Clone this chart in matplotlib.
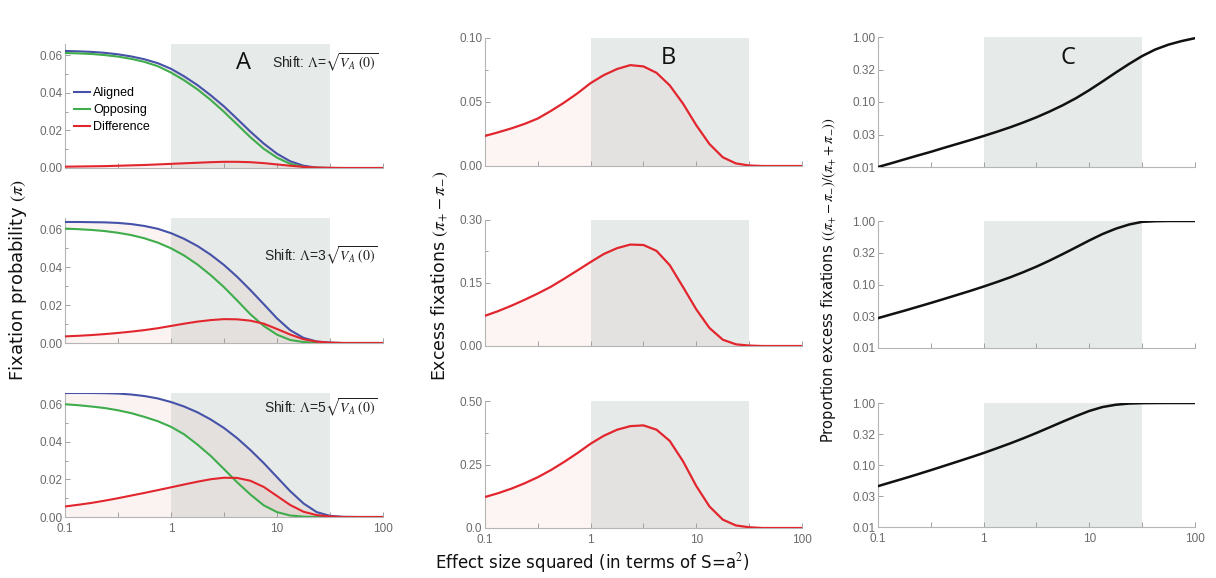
import numpy as np
import matplotlib.pyplot as plt

plt.rcParams.update({
    "font.family": ["Liberation Sans", "DejaVu Sans"],
    "mathtext.fontset": "stix",
})

# ── DATA ───────────────────────────────────────────────────────────────────
# effect size squared, 1/8-decade grid
S = [0.1, 0.133, 0.178, 0.237, 0.316, 0.42, 0.56, 0.75, 1.0, 1.33, 1.78, 2.37,
     3.16, 4.2, 5.6, 7.5, 10, 13.3, 17.8, 23.7, 31.6, 42, 56, 75, 100]

# panel A, shift = 1 sqrt(VA)
a1_aligned = [.0623, .0621, .0618, .0613, .0605, .0594, .0579, .0558, .0528, .0488, .0441, .0387,
              .0328, .0262, .0194, .0130, .0076, .0036, .0012, .0002, 0, 0, 0, 0, 0]
a1_opposing = [.0612, .0610, .0607, .0601, .0593, .0581, .0565, .0542, .0508, .0467, .0418, .0362,
               .0299, .0232, .0164, .0102, .0055, .0022, .0006, .0001, 0, 0, 0, 0, 0]
a1_diff = [.0007, .0008, .0009, .0010, .0012, .0014, .0016, .0019, .0022, .0025, .0028, .0031,
           .0033, .0033, .0031, .0026, .0019, .0012, .0006, .0002, .0001, 0, 0, 0, 0]

# panel A, shift = 3 sqrt(VA)
a3_aligned = [.0639, .0639, .0638, .0637, .0634, .0628, .0618, .0603, .0580, .0550, .0512, .0466,
              .0412, .0350, .0280, .0205, .0130, .0068, .0027, .0008, .0002, 0, 0, 0, 0]
a3_opposing = [.0604, .0601, .0597, .0591, .0582, .0570, .0553, .0530, .0500, .0462, .0414, .0358,
               .0295, .0225, .0152, .0090, .0044, .0016, .0005, .0001, 0, 0, 0, 0, 0]
a3_diff = [.0035, .0038, .0042, .0047, .0053, .0060, .0068, .0078, .0090, .0102, .0113, .0121,
           .0126, .0125, .0118, .0102, .0074, .0045, .0020, .0007, .0002, 0, 0, 0, 0]

# panel A, shift = 5 sqrt(VA)
a5_aligned = [.0660, .0660, .0660, .0659, .0657, .0652, .0644, .0631, .0612, .0588, .0557, .0519,
              .0474, .0420, .0357, .0287, .0212, .0138, .0072, .0026, .0006, .0001, 0, 0, 0]
a5_opposing = [.0600, .0595, .0588, .0580, .0568, .0553, .0533, .0510, .0480, .0440, .0385, .0325,
               .0255, .0185, .0120, .0062, .0026, .0008, .0002, 0, 0, 0, 0, 0, 0]
a5_diff = [.0056, .0065, .0075, .0087, .0100, .0114, .0128, .0143, .0158, .0173, .0188, .0201,
           .0209, .0208, .0193, .0160, .0112, .0064, .0028, .0010, .0003, 0, 0, 0, 0]

# panel B, excess fixations
b1_excess = [.0235, .0263, .0294, .0329, .0371, .0430, .0495, .0568, .0648, .0710, .0758, .0788,
             .0778, .0728, .0630, .0486, .0318, .0172, .0068, .0020, .0004, 0, 0, 0, 0]
b3_excess = [.072, .083, .096, .110, .125, .141, .160, .180, .200, .219, .233, .2415,
             .2405, .2265, .1925, .140, .087, .043, .015, .004, .001, 0, 0, 0, 0]
b5_excess = [.122, .137, .155, .176, .200, .228, .260, .295, .332, .363, .387, .401,
             .404, .387, .343, .262, .165, .085, .033, .010, .003, 0, 0, 0, 0]

# panel C, proportion excess fixations
c1_prop = [.0100, .0114, .0131, .0150, .0171, .0197, .0226, .0260, .0300, .0348, .0408, .0484,
           .0582, .0713, .0891, .1148, .1524, .2065, .2838, .3837, .5093, .6412, .7621, .8670, .9594]
c3_prop = [.0295, .0338, .0387, .0445, .0512, .0591, .0685, .0795, .0929, .1091, .1297, .1563,
           .1912, .2378, .3013, .3859, .4943, .6223, .7568, .8790, .9694, .992, 1.0, 1.0, 1.0]
c5_prop = [.0456, .0527, .0610, .0708, .0825, .0964, .1129, .1327, .1563, .1858, .2228, .2692,
           .3289, .4046, .5000, .6152, .7447, .8601, .9376, .9795, .9936, .998, 1.0, 1.0, 1.0]

shift_labels = [r"Shift: $\Lambda$=$\sqrt{V_A\ (0)}$",
                r"Shift: $\Lambda$=3$\sqrt{V_A\ (\mathit{0})}$",
                r"Shift: $\Lambda$=5$\sqrt{V_A\ (\mathit{0})}$"]
SHADE = (1.0, 31.6)
# ───────────────────────────────────────────────────────────────────────────

BLUE, GREEN, RED = "#4652a8", "#3fad4b", "#e2262e"
SHADE_COL = "#e6ebea"
FILL_COL = "#d2554c"
TICK_COL = "#6b6b6b"
W, H = 1216, 578

fig = plt.figure(figsize=(W / 100, H / 100), dpi=100)


def add_axes(x0, x1, y0, y1):
    return fig.add_axes([x0 / W, 1 - y1 / H, (x1 - x0) / W, (y1 - y0) / H])


def style(ax, bottom_row):
    ax.set_xscale("log")
    ax.set_xlim(0.1, 100)
    ax.axvspan(*SHADE, color=SHADE_COL, lw=0, zorder=0)
    for s in ("top", "right"):
        ax.spines[s].set_visible(False)
    for s in ("left", "bottom"):
        ax.spines[s].set_color("#b5b5b5")
        ax.spines[s].set_linewidth(0.8)
    ax.set_xticks([0.1, 1, 10, 100])
    ax.set_xticks([0.316, 3.16, 31.6], minor=True)
    if bottom_row:
        ax.set_xticklabels(["0.1", "1", "10", "100"])
    else:
        ax.set_xticklabels([])
    ax.tick_params(which="both", direction="in", color="#a0a0a0", labelcolor=TICK_COL,
                   labelsize=8.5, pad=2)
    ax.tick_params(axis="x", which="both", pad=4)
    ax.tick_params(which="major", length=3.5, width=0.7)
    ax.tick_params(which="minor", length=3.5, width=0.7)
    ax.tick_params(axis="y", which="minor", length=2)


rowsA = [(44, 168), (218, 343), (393, 517)]
rowsB = [(38, 166), (220, 346), (401, 528)]
rowsC = [(37, 167), (221, 348), (403, 527)]

a_sets = [(a1_aligned, a1_opposing, a1_diff),
          (a3_aligned, a3_opposing, a3_diff),
          (a5_aligned, a5_opposing, a5_diff)]
b_sets = [b1_excess, b3_excess, b5_excess]
b_ticks = [([0, .05, .10], ["0.00", "0.05", "0.10"], [.025, .075]),
           ([0, .15, .30], ["0.00", "0.15", "0.30"], [.075, .225]),
           ([0, .25, .50], ["0.0", "0.25", "0.50"], [.125, .375])]
c_sets = [c1_prop, c3_prop, c5_prop]

# Panel A
for i, ((y0, y1), (al, op, df)) in enumerate(zip(rowsA, a_sets)):
    ax = add_axes(65, 383, y0, y1)
    style(ax, i == 2)
    ax.fill_between(S, op, al, color=FILL_COL, alpha=0.07, lw=0, zorder=1)
    ax.fill_between(S, 0, df, color=FILL_COL, alpha=0.07, lw=0, zorder=1)
    ax.plot(S, al, color=BLUE, lw=1.5, zorder=3, label="Aligned")
    ax.plot(S, op, color=GREEN, lw=1.5, zorder=3, label="Opposing")
    ax.plot(S, df, color=RED, lw=1.5, zorder=4, label="Difference")
    ax.set_ylim(0, 0.066)
    ax.set_yticks([0, .02, .04, .06])
    ax.set_yticklabels(["0.00", "0.02", "0.04", "0.06"])
    ax.set_yticks([.01, .03, .05], minor=True)
    ty = [0.85, 0.70, 0.88][i]
    ax.text(0.985, ty, shift_labels[i], transform=ax.transAxes, ha="right", va="center",
            fontsize=10, color="#222")
    if i == 0:
        ax.text(0.56, 0.85, "A", transform=ax.transAxes, ha="center", va="center",
                fontsize=17, family="Open Sans", color="#111")
        ax.legend(loc="upper left", bbox_to_anchor=(0.0, 0.72), frameon=False,
                  fontsize=9, handlelength=1.3, handletextpad=0.25, labelspacing=0.4,
                  borderaxespad=0.3)

# Panel B
for i, ((y0, y1), ex, (tk, tl, mn)) in enumerate(zip(rowsB, b_sets, b_ticks)):
    ax = add_axes(485, 802, y0, y1)
    style(ax, i == 2)
    ax.fill_between(S, 0, ex, color=FILL_COL, alpha=0.06, lw=0, zorder=1)
    ax.plot(S, ex, color=RED, lw=1.6, zorder=3)
    ax.set_ylim(0, tk[-1])
    ax.set_yticks(tk)
    ax.set_yticklabels(tl)
    ax.set_yticks(mn, minor=True)
    if i == 0:
        ax.text(0.577, 0.84, "B", transform=ax.transAxes, ha="center", va="center",
                fontsize=17, family="Open Sans", color="#111")

# Panel C
for i, ((y0, y1), pr) in enumerate(zip(rowsC, c_sets)):
    ax = add_axes(878, 1195, y0, y1)
    style(ax, i == 2)
    ax.set_yscale("log")
    ax.plot(S, pr, color="#111111", lw=1.8, zorder=3)
    ax.set_ylim(0.01, 1.0)
    ax.set_yticks([0.01, 0.0316, 0.1, 0.316, 1.0])
    ax.set_yticklabels(["0.01", "0.03", "0.10", "0.32", "1.00"])
    ax.yaxis.set_minor_locator(plt.NullLocator())
    if i == 0:
        ax.text(0.60, 0.84, "C", transform=ax.transAxes, ha="center", va="center",
                fontsize=17, family="Open Sans", color="#111")

lab = dict(family="DejaVu Sans", color="#111", ha="center", va="center")
fig.text(18 / W, 1 - 280 / H, r"Fixation probability $(\pi)$", rotation=90,
         fontsize=13, **lab)
fig.text(440 / W, 1 - 276 / H, r"Excess fixations $(\pi_{+}-\pi_{-})$", rotation=90,
         fontsize=12.5, **lab)
fig.text(829 / W, 1 - 280 / H,
         r"Proportion excess fixations $((\pi_{+}-\pi_{-})/(\pi_{+}+\pi_{-}))$",
         rotation=90, fontsize=10.5, **lab)
fig.text(592 / W, 1 - 563 / H, "Effect size squared (in terms of S=a$^2$)",
         fontsize=12, **lab)

fig.savefig("out.png", dpi=100)
